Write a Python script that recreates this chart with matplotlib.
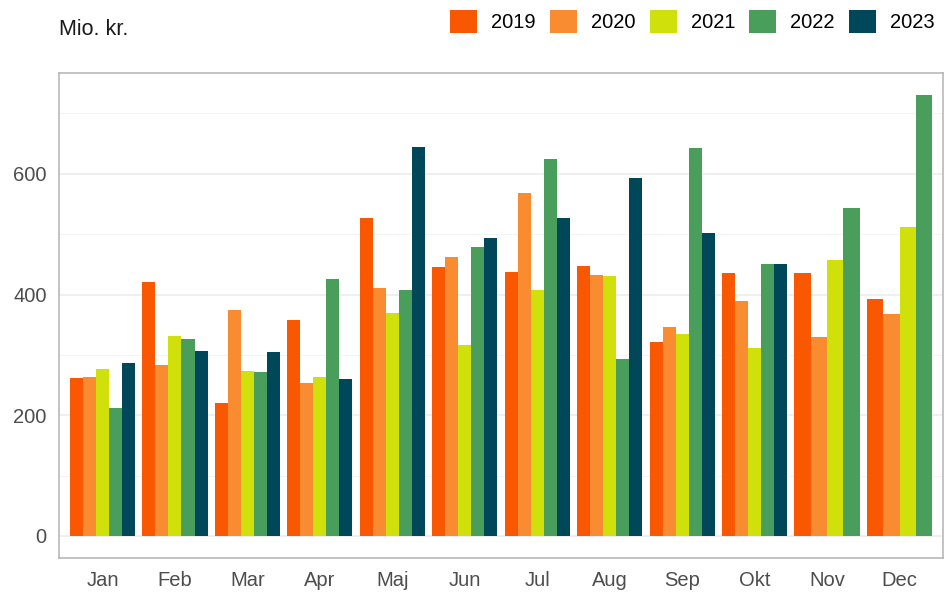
import numpy as np
import matplotlib
matplotlib.use("Agg")
import matplotlib.pyplot as plt
from matplotlib.patches import Patch

plt.rcParams["font.family"] = ["Liberation Sans", "DejaVu Sans"]

# Maanedlige vaerdier i mio. kr. (aflaest fra figuren)
months = ["Jan", "Feb", "Mar", "Apr", "Maj", "Jun", "Jul", "Aug", "Sep", "Okt", "Nov", "Dec"]
years = ["2019", "2020", "2021", "2022", "2023"]
v2019 = [261, 420, 221, 357, 526, 445, 438, 448, 322, 435, 436, 393]
v2020 = [263, 284, 375, 253, 410, 463, 569, 433, 347, 390, 329, 367]
v2021 = [276, 332, 273, 263, 369, 316, 408, 430, 334, 312, 458, 512]
v2022 = [212, 326, 271, 425, 408, 478, 625, 293, 643, 451, 544, 731]
v2023 = [286, 307, 304, 260, 645, 493, 526, 593, 502, 451, None, None]
colors = ["#F95700", "#F98B30", "#D0E00A", "#4A9E5C", "#00475A"]

series = [v2019, v2020, v2021, v2022, v2023]

fig = plt.figure(figsize=(9.49, 5.92), dpi=100)
ax = fig.add_axes([0.0622, 0.0574, 0.9315, 0.8193])

# ggplot-agtig dodge: manglende aar giver bredere soejler
group_w = 0.9
for i, m in enumerate(months):
    present = [(k, s[i]) for k, s in enumerate(series) if s[i] is not None]
    n = len(present)
    bw = group_w / n
    for j, (k, val) in enumerate(present):
        x = i - group_w / 2 + bw * (j + 0.5)
        ax.bar(x, val, width=bw, color=colors[k], linewidth=0, zorder=3)

ax.set_xlim(-0.6, 11.6)
ax.set_ylim(-36.5, 767)
ax.set_xticks(range(len(months)))
ax.set_xticklabels(months)
ax.set_yticks([0, 200, 400, 600])
ax.set_yticks([100, 300, 500, 700], minor=True)
ax.grid(axis="y", which="major", color="#EBEBEB", linewidth=1.1, zorder=0)
ax.grid(axis="y", which="minor", color="#F2F2F2", linewidth=0.6, zorder=0)
ax.tick_params(axis="both", which="both", length=0, labelsize=14.5, labelcolor="#4D4D4D")
ax.tick_params(axis="x", pad=9)
ax.tick_params(axis="y", pad=9)
for sp in ax.spines.values():
    sp.set_color("#B3B3B3")
    sp.set_linewidth(1.1)

fig.text(0.062, 0.951, "Mio. kr.", fontsize=15.5, color="#1A1A1A", va="center", ha="left")

handles = [Patch(facecolor=c, edgecolor="none", label=y) for c, y in zip(colors, years)]
fig.legend(handles=handles, loc="center right", bbox_to_anchor=(0.985, 0.964), ncol=5,
           frameon=False, fontsize=14.5, handlelength=1.34, handleheight=1.34,
           handletextpad=0.7, columnspacing=0.7, borderaxespad=0.0, borderpad=0.0)

fig.savefig("out.png", dpi=100, facecolor="white")
